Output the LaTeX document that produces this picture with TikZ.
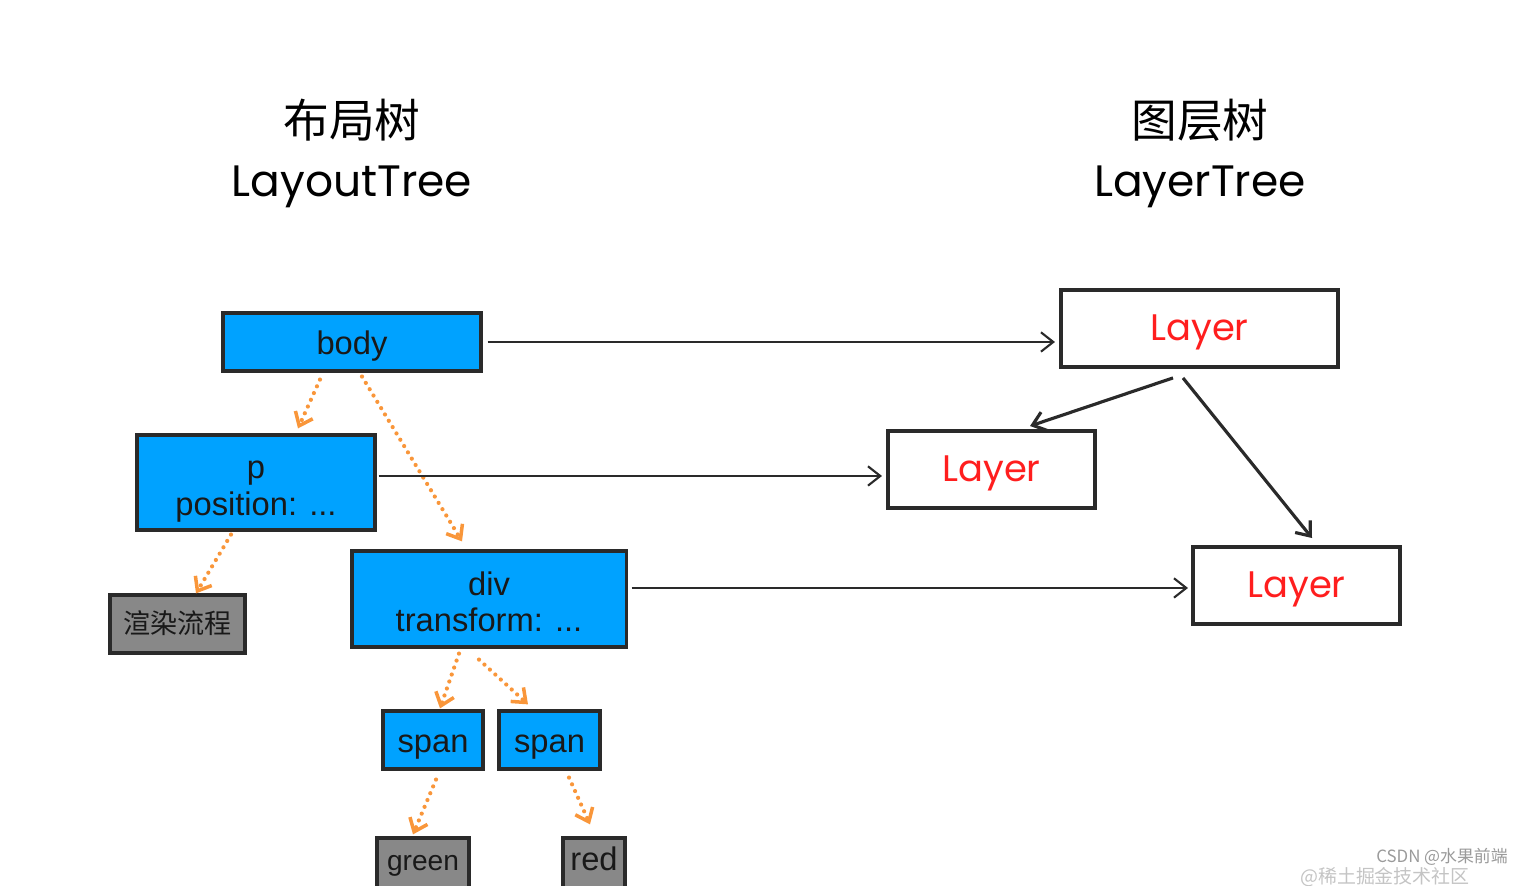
\documentclass[tikz,border=0pt]{standalone}
\usepackage{fontspec}
\setmainfont{Liberation Sans}
\newfontfamily\cjkfont{Noto Sans CJK SC}
\newfontfamily\titlefont{Poppins}
\usetikzlibrary{arrows.meta}
\definecolor{domblue}{HTML}{00A2FF}
\definecolor{leafgray}{HTML}{888888}
\definecolor{paintorange}{HTML}{F9963A}
\definecolor{layerred}{HTML}{FF1E1E}
\definecolor{boxink}{HTML}{2A2A2A}
\definecolor{markgray}{HTML}{9A9A9A}
\definecolor{faintgray}{HTML}{C4C4C4}
\tikzset{
  dombox/.style={draw=boxink, line width=0.9pt, fill=domblue, inner sep=0pt, align=center,
    text=black!90, text height=8pt, text depth=1pt, font=\fontsize{9.3}{10.3}\selectfont},
  twoline/.style={text height=19.6pt, text depth=1pt},
  leafbox/.style={dombox, fill=leafgray, text height=6.5pt, text depth=2.5pt},
  layerbox/.style={draw=boxink, line width=1.1pt, fill=white, inner sep=0pt, text=layerred,
    text height=8pt, text depth=1.4pt, font=\titlefont\fontsize{10.5}{12}\selectfont},
  paintlink/.style={paintorange, line width=1.2pt, line cap=round, dash pattern=on 0pt off 2.1pt,
    -{Straight Barb[length=3.4pt,width=5.4pt,line width=1pt]}},
  layerlink/.style={boxink, line width=0.6pt, -{Straight Barb[length=3.5pt,width=5.5pt]}},
  childlink/.style={layerlink, line width=0.9pt},
}

\begin{document}
\begin{tikzpicture}[x=0.01cm, y=-0.01cm]
  \useasboundingbox (0,0) rectangle (1526,886);

  \node[font=\cjkfont\fontsize{13}{15}\selectfont] (layoutcn) at (352,120) {布局树};
  \node[anchor=base, font=\titlefont\fontsize{12.5}{15}\selectfont] (layouten) at (352,197) {LayoutTree};
  \node[font=\cjkfont\fontsize{13}{15}\selectfont] (layercn) at (1200,120) {图层树};
  \node[anchor=base, font=\titlefont\fontsize{12.5}{15}\selectfont] (layeren) at (1200,197) {LayerTree};

  \node[dombox, minimum width=2.58cm, minimum height=0.58cm] (body) at (352,342) {body};
  \node[dombox, twoline, minimum width=2.38cm, minimum height=0.95cm] (p) at (256,482.5) {p\\position: ...};
  \node[leafbox, minimum width=1.35cm, minimum height=0.58cm, text height=7pt, text depth=1.4pt,
    font=\cjkfont\fontsize{7.7}{9}\selectfont] (paint) at (177.5,624) {渲染流程};
  \node[dombox, twoline, minimum width=2.74cm, minimum height=0.96cm] (div) at (489,599) {div\\transform: ...};
  \node[dombox, minimum width=1.00cm, minimum height=0.58cm] (spanA) at (433,740) {span};
  \node[dombox, minimum width=1.01cm, minimum height=0.58cm] (spanB) at (549.5,740) {span};
  \node[leafbox, minimum width=0.92cm, minimum height=0.50cm, font=\fontsize{8}{9}\selectfont] (green) at (423,863) {green};
  \node[leafbox, minimum width=0.62cm, minimum height=0.50cm] (red) at (594,863) {red};

  \node[layerbox, minimum width=2.77cm, minimum height=0.77cm] (layerA) at (1199.5,328.5) {Layer};
  \node[layerbox, minimum width=2.07cm, minimum height=0.77cm] (layerB) at (991.5,469.5) {Layer};
  \node[layerbox, minimum width=2.07cm, minimum height=0.77cm] (layerC) at (1296.5,585.5) {Layer};

  \draw[paintlink] ([xshift=-0.32cm,yshift=-0.07cm]body.south) -- ([xshift=0.42cm,yshift=0.05cm]p.north);
  \draw[paintlink] ([xshift=0.10cm,yshift=-0.04cm]body.south) -- ([xshift=-0.27cm,yshift=0.08cm]div.north);
  \draw[paintlink] ([xshift=-0.25cm,yshift=-0.03cm]p.south) -- ([xshift=0.185cm]paint.north);
  \draw[paintlink] ([xshift=-0.30cm,yshift=-0.05cm]div.south) -- ([xshift=0.07cm,yshift=0.01cm]spanA.north);
  \draw[paintlink] ([xshift=-0.10cm,yshift=-0.11cm]div.south) -- ([xshift=-0.215cm,yshift=0.05cm]spanB.north);
  \draw[paintlink] ([xshift=0.03cm,yshift=-0.09cm]spanA.south) -- ([xshift=-0.10cm,yshift=0.02cm]green.north);
  \draw[paintlink] ([xshift=0.195cm,yshift=-0.07cm]spanB.south) -- ([xshift=-0.04cm,yshift=0.12cm]red.north);

  \draw[layerlink, shorten <=0.05cm, shorten >=0.04cm] (body.east) -- (body.east -| layerA.west);
  \draw[layerlink, shorten <=0.02cm, shorten >=0.04cm] ([yshift=0.065cm]p.east) -- ([yshift=0.065cm]p.east -| layerB.west);
  \draw[layerlink, shorten <=0.04cm, shorten >=0.03cm] ([yshift=0.11cm]div.east) -- ([yshift=0.11cm]div.east -| layerC.west);
  \draw[childlink] ([xshift=-0.265cm,yshift=-0.09cm]layerA.south) -- ([xshift=0.385cm,yshift=0.03cm]layerB.north);
  \draw[childlink] ([xshift=-0.165cm,yshift=-0.09cm]layerA.south) -- ([xshift=0.155cm,yshift=0.07cm]layerC.north);

  \node[inner sep=0pt, text=faintgray, font=\cjkfont\fontsize{5.4}{6}\selectfont] (juejin) at (1385,877) {@稀土掘金技术社区};
  \node[inner sep=0pt, text=markgray, font=\cjkfont\fontsize{4.8}{6}\selectfont] (mark) at (1442,857) {CSDN @水果前端};

\end{tikzpicture}
\end{document}
